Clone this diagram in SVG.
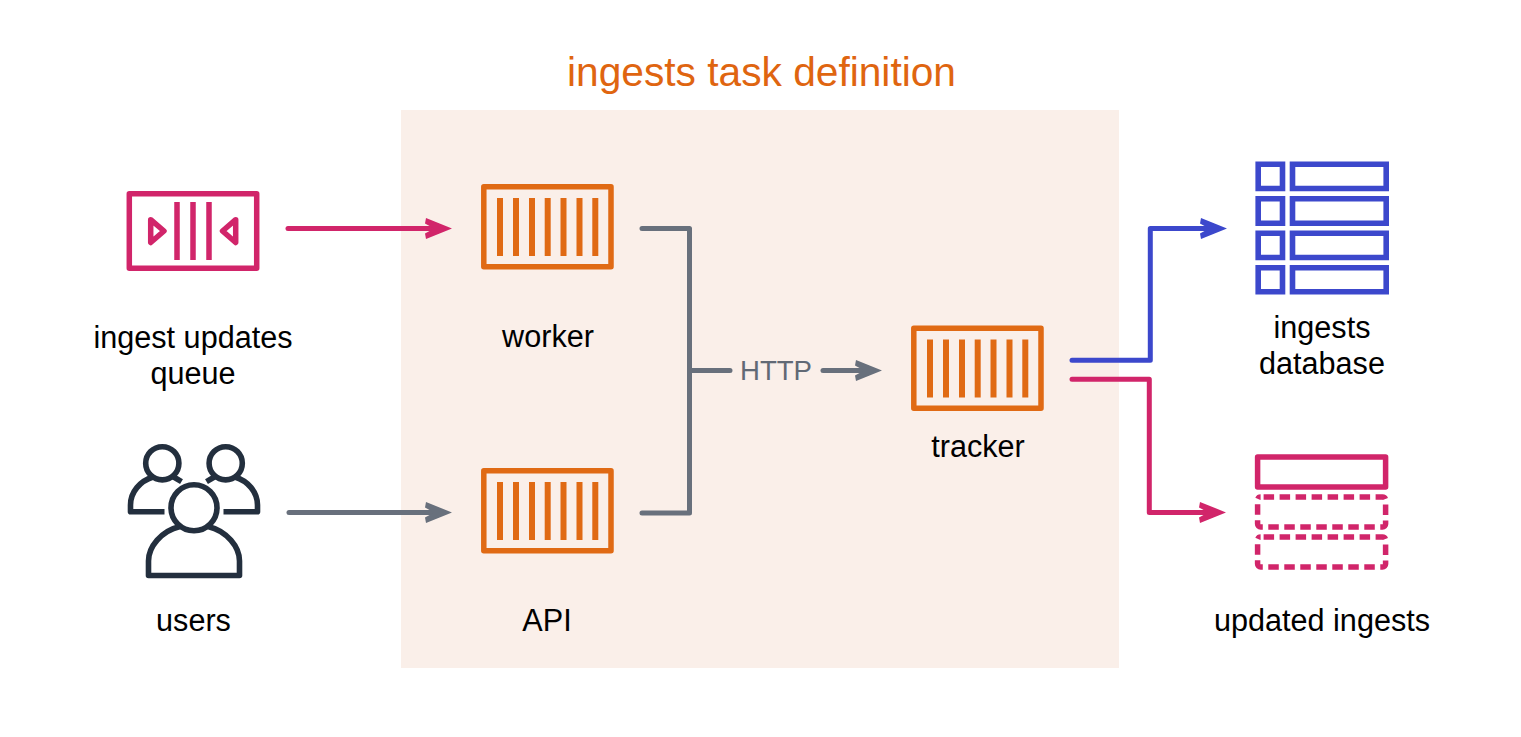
<svg xmlns="http://www.w3.org/2000/svg" width="1521" height="737" viewBox="0 0 1521 737">
<style>
text{font-family:"Liberation Sans",Arial,sans-serif;font-size:30.6px;fill:#000;text-anchor:middle}
.title{font-size:40.7px;fill:#DF6510}
.http{fill:#616975;font-size:27.6px}
.c{fill:none;stroke-width:5;stroke-linecap:round;stroke-linejoin:round}
.pink{stroke:#D1256A}.grey{stroke:#68707C}.blue{stroke:#3C48CC}
.fp{fill:#D1256A}.fg{fill:#68707C}.fb{fill:#3C48CC}
.box{fill:none;stroke:#E06A14;stroke-width:5.5;stroke-linejoin:round}
.bars{stroke:#E06A14;stroke-width:6}
.q{fill:none;stroke:#D1256A;stroke-width:5.5;stroke-linejoin:round}
.u{fill:none;stroke:#232F3E;stroke-width:5.6;stroke-linejoin:round}
.d{fill:none;stroke:#3C48CC;stroke-width:5.6}
.dash{stroke-dasharray:10.5 5.5;stroke-dashoffset:-3}
</style>
<defs>
<g id="container">
<rect class="box" x="483.8" y="186.8" width="127.2" height="80"/>
<path class="bars" d="M500 198V256M516 198V256M532 198V256M547.7 198V256M563.5 198V256M579.5 198V256M595.3 198V256"/>
</g>
<path id="head" d="M25 0L-1 -10.5L-2 -5L7 0L-2 5L-1 10.5Z"/>
</defs>
<rect id="panel" x="401" y="110" width="718" height="558" fill="#FAEFE9"/>
<text id="title" class="title" x="761.5" y="86">ingests task definition</text>
<g id="connectors">
<path class="c pink" d="M288 228.4H440"/><use href="#head" class="fp" transform="translate(427,228.4)"/>
<path class="c grey" d="M289 512.5H440"/><use href="#head" class="fg" transform="translate(427,512.5)"/>
<path class="c grey" d="M642 228.5H689.5V513H642M689.5 370.5H730"/>
<path class="c grey" d="M823 370.5H870" stroke-linecap="butt"/><use href="#head" class="fg" transform="translate(857,370.5)"/>
<path class="c blue" d="M1072 360.3H1150.3V228.4H1215"/><use href="#head" class="fb" transform="translate(1202,228.4)"/>
<path class="c pink" d="M1072 379.3H1149.3V512.4H1215"/><use href="#head" class="fp" transform="translate(1201,512.4)"/>
<text id="http" class="http" x="776" y="380">HTTP</text>
</g>
<g id="queue">
<rect class="q" x="129.3" y="193.7" width="127.4" height="74.5"/>
<path class="q" d="M177 202V260M193 202V260M209 202V260"/>
<path class="q" d="M150.7 219.7L164 231L150.7 242.5ZM235.7 219.7L222.5 231L235.7 242.5Z"/>
<text x="193" y="348">ingest updates</text>
<text x="193" y="384">queue</text>
</g>
<g id="users">
<circle class="u" cx="162.3" cy="463.3" r="16.6"/>
<circle class="u" cx="225.7" cy="463.3" r="16.6"/>
<circle class="u" cx="194" cy="507.7" r="23"/>
<path class="u" d="M164.5 511.7H130.5V505C130.5 492 140 481 153 477M172 476L181.5 481.7M223.5 511.7H257.5V505C257.5 492 248 481 235 477M216 476L206.5 481.7"/>
<path class="u" d="M180 526.5C161 531 148.5 547 148.5 561V575.5H239.5V561C239.5 547 227 531 208 526.5"/>
<text x="193.5" y="631">users</text>
</g>
<g id="worker"><use href="#container"/><text x="548" y="347">worker</text></g>
<g id="api"><use href="#container" transform="translate(0,284)"/><text x="547" y="631">API</text></g>
<g id="tracker"><use href="#container" transform="translate(430,141.5)"/><text x="978" y="457">tracker</text></g>
<g id="database">
<path class="d" d="M1258.2 164.2H1282.5V188.5H1258.2ZM1292.5 164.2H1386.2V188.5H1292.5ZM1258.2 198.8H1282.5V223.2H1258.2ZM1292.5 198.8H1386.2V223.2H1292.5ZM1258.2 233.2H1282.5V257.5H1258.2ZM1292.5 233.2H1386.2V257.5H1292.5ZM1258.2 267.8H1282.5V291.8H1258.2ZM1292.5 267.8H1386.2V291.8H1292.5Z"/>
<text x="1322" y="338">ingests</text>
<text x="1322" y="374">database</text>
</g>
<g id="updated">
<rect class="q" x="1257.6" y="457" width="128" height="30"/>
<rect class="q dash" x="1257.6" y="497" width="128" height="30" rx="3"/>
<rect class="q dash" x="1257.6" y="537" width="128" height="30" rx="3"/>
<text x="1322" y="631">updated ingests</text>
</g>
</svg>
